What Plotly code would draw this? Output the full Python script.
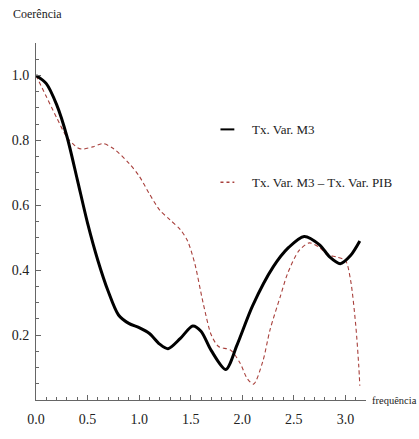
import plotly.graph_objects as go

# Coherence estimates over frequency (0 .. pi)
freq_m3 = [0.0, 0.1, 0.2, 0.3, 0.4, 0.5, 0.6, 0.7, 0.8, 0.9, 1.0, 1.1, 1.2, 1.28,
           1.4, 1.52, 1.6, 1.7, 1.84, 1.95, 2.1, 2.3, 2.45, 2.6, 2.75, 2.85, 2.95,
           3.05, 3.14]
coh_m3 = [1.0, 0.975, 0.91, 0.812, 0.68, 0.545, 0.43, 0.335, 0.262, 0.236, 0.223,
          0.205, 0.172, 0.158, 0.19, 0.228, 0.212, 0.152, 0.094, 0.17, 0.29, 0.41,
          0.47, 0.504, 0.478, 0.44, 0.42, 0.445, 0.49]

freq_diff = [0.0, 0.1, 0.2, 0.3, 0.4, 0.45, 0.55, 0.65, 0.75, 0.9, 1.0, 1.1, 1.2,
             1.3, 1.4, 1.47, 1.54, 1.62, 1.7, 1.77, 1.89, 1.98, 2.05, 2.11, 2.2,
             2.27, 2.37, 2.44, 2.55, 2.65, 2.75, 2.82, 2.92, 3.0, 3.05, 3.1, 3.13,
             3.14]
coh_diff = [1.0, 0.935, 0.87, 0.81, 0.778, 0.773, 0.78, 0.79, 0.775, 0.73, 0.69,
            0.635, 0.585, 0.555, 0.525, 0.49, 0.42, 0.3, 0.2, 0.165, 0.153, 0.113,
            0.065, 0.049, 0.12, 0.217, 0.32, 0.39, 0.46, 0.484, 0.47, 0.449, 0.44,
            0.43, 0.37, 0.232, 0.104, 0.044]

series_names = ["Tx. Var. M3", "Tx. Var. M3 \u2013 Tx. Var. PIB"]

x_ticks = [0.0, 0.5, 1.0, 1.5, 2.0, 2.5, 3.0]
y_ticks = [0.2, 0.4, 0.6, 0.8, 1.0]

SERIF = "Liberation Serif"
RED = "#a8403c"
AXIS = "#666666"
TEXT = "#222222"

fig = go.Figure()
fig.add_trace(go.Scatter(x=freq_diff, y=coh_diff, mode="lines",
                         line=dict(color=RED, width=1.1, dash="4px,3px",
                                   shape="spline", smoothing=0.8),
                         name=series_names[1], showlegend=False))
fig.add_trace(go.Scatter(x=freq_m3, y=coh_m3, mode="lines",
                         line=dict(color="black", width=3, shape="spline",
                                   smoothing=0.8),
                         name=series_names[0], showlegend=False))

# hand-placed legend entries
legend_rows = [(0.758, "black", 2, "solid"), (0.610, RED, 1.5, "dot")]
for (yy, col, w, dsh), name in zip(legend_rows, series_names):
    fig.add_shape(type="line", xref="paper", yref="paper",
                  x0=0.559, x1=0.601, y0=yy, y1=yy,
                  line=dict(color=col, width=w, dash=dsh))
    fig.add_annotation(xref="paper", yref="paper", x=0.648, y=yy,
                       xanchor="left", yanchor="middle", showarrow=False,
                       text=name, font=dict(family=SERIF, size=13, color=TEXT))

# axis titles
fig.add_annotation(xref="paper", yref="paper", x=-0.075, y=1.055,
                   xanchor="left", yanchor="bottom", showarrow=False,
                   text="Coerência", font=dict(family=SERIF, size=12, color=TEXT))
fig.add_annotation(xref="paper", yref="paper", x=1.012, y=0.0,
                   xanchor="left", yanchor="middle", showarrow=False,
                   text="frequência", font=dict(family=SERIF, size=10.5, color=TEXT))

fig.update_xaxes(range=[0, 3.2], tickvals=x_ticks,
                 ticktext=[f"{v:.1f}" for v in x_ticks],
                 ticks="inside", ticklen=5, tickcolor=AXIS, tickwidth=1,
                 minor=dict(dtick=0.1, tick0=0, ticks="inside", ticklen=3,
                            tickcolor=AXIS, showgrid=False),
                 showline=True, linecolor=AXIS, linewidth=1,
                 showgrid=False, zeroline=False, ticklabelstandoff=6,
                 tickfont=dict(family=SERIF, size=14, color=TEXT))
fig.update_yaxes(range=[0, 1.1], tickvals=y_ticks,
                 ticktext=[f"{v:.1f}" for v in y_ticks],
                 ticks="inside", ticklen=5, tickcolor=AXIS, tickwidth=1,
                 minor=dict(tickvals=[0.05 * i for i in range(1, 22)],
                            ticks="inside", ticklen=3,
                            tickcolor=AXIS, showgrid=False),
                 showline=True, linecolor=AXIS, linewidth=1,
                 showgrid=False, zeroline=False, ticklabelstandoff=3,
                 tickfont=dict(family=SERIF, size=14, color=TEXT))

fig.update_layout(width=419, height=439,
                  margin=dict(l=35, r=53, t=43, b=24),
                  paper_bgcolor="white", plot_bgcolor="white",
                  font=dict(family=SERIF),
                  showlegend=False)

fig.write_html("out.html")
